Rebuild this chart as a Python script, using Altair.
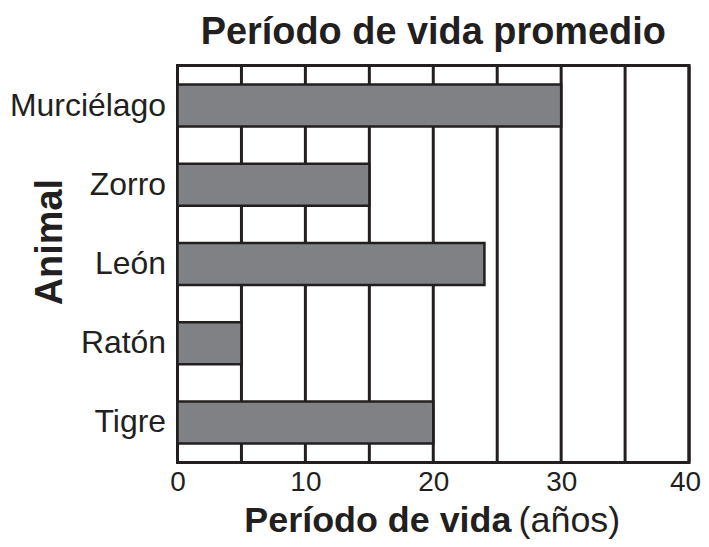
import altair as alt
import pandas as pd

animals = ["Murciélago", "Zorro", "León", "Ratón", "Tigre"]
lifespans = [30, 15, 24, 5, 20]
x_ticks = [0, 10, 20, 30, 40]
grid_values = [0, 5, 10, 15, 20, 25, 30, 35, 40]

df = pd.DataFrame({"animal": animals, "vida": lifespans})
FONT = "Liberation Sans"
INK = "#231f20"

bars = alt.Chart(df).mark_bar(
    fill="#808184", stroke=INK, strokeWidth=2.5
).encode(
    x=alt.X("vida:Q", scale=alt.Scale(domain=[0, 40], nice=False),
            axis=alt.Axis(values=x_ticks, title=None, grid=False, ticks=False,
                          domain=False, labelFont=FONT, labelFontSize=28,
                          labelColor=INK, labelPadding=6, labelFlush=False,
                          labelOffset=alt.expr("datum.value == 40 ? -4 : 0"))),
    y=alt.Y("animal:N", sort=animals,
            scale=alt.Scale(paddingInner=0.47, paddingOuter=0.24),
            axis=alt.Axis(title=None, ticks=False, domain=False, labelFont=FONT,
                          labelFontSize=32, labelColor=INK, labelPadding=12)),
)

grid = alt.Chart(pd.DataFrame({"g": grid_values})).mark_rule(
    color=INK, strokeWidth=3
).encode(x=alt.X("g:Q", scale=alt.Scale(domain=[0, 40], nice=False)))

xt_bold = alt.Chart(pd.DataFrame({"t": ["Período de vida"]})).mark_text(
    font=FONT, fontSize=36, fontWeight="bold", align="left", baseline="alphabetic", color=INK
).encode(text="t:N", x=alt.value(67), y=alt.value(468))

xt_reg = alt.Chart(pd.DataFrame({"t": ["(años)"]})).mark_text(
    font=FONT, fontSize=36, align="left", baseline="alphabetic", color=INK
).encode(text="t:N", x=alt.value(342), y=alt.value(468))

yt = alt.Chart(pd.DataFrame({"t": ["Animal"]})).mark_text(
    font=FONT, fontSize=38, fontWeight="bold", align="center", baseline="alphabetic",
    angle=270, color=INK
).encode(text="t:N", x=alt.value(-116), y=alt.value(177))

chart = alt.layer(grid, bars, xt_bold, xt_reg, yt).properties(
    width=513, height=398,
    title=alt.TitleParams("Período de vida promedio", font=FONT, fontSize=38,
                          fontWeight="bold", color=INK, anchor="middle", offset=12),
    autosize=alt.AutoSizeParams(type="none"),
    padding={"left": 170, "top": 57, "right": 12, "bottom": 76},
).configure_view(stroke=INK, strokeWidth=3)

chart.save("out.html", embed_options={"renderer": "svg", "actions": False})
